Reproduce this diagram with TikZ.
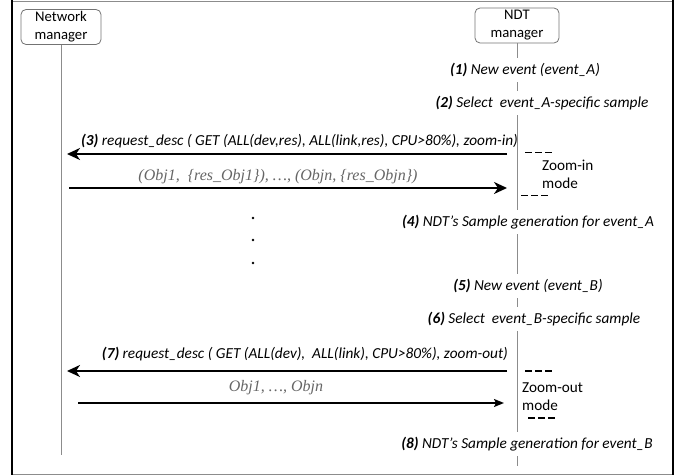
\documentclass[tikz,border=0pt]{standalone}
\usepackage{fontspec}
\setmainfont{Carlito}
\newfontfamily\objfont{Liberation Serif}
\usetikzlibrary{arrows.meta}
\tikzstyle{actor} = [rectangle, rounded corners=5pt, minimum height=35pt, inner sep=2pt, align=center, draw=black!55, line width=0.8pt, font=\fontsize{14.7}{18}\selectfont]
\tikzstyle{evt} = [inner sep=0pt, minimum height=24pt, font=\fontsize{15.3}{17}\selectfont\itshape]
\tikzstyle{reply} = [inner sep=0pt, text=black!60, font=\objfont\fontsize{16}{18}\selectfont\itshape]
\tikzstyle{modetxt} = [align=left, inner sep=0pt, font=\fontsize{15.2}{18}\selectfont]
\tikzstyle{modedash} = [line width=1.3pt, dash pattern=on 7pt off 3pt]
\tikzstyle{life} = [draw=black!45, line width=0.8pt]
\tikzstyle{pause} = [circle, fill=black, inner sep=0pt, minimum size=2.8pt]
\tikzstyle{msg} = [line width=2.2pt, ->, >={Stealth[length=13pt, width=12pt, inset=4pt]}]
\tikzstyle{msgthin} = [line width=1.5pt, ->, >={Stealth[length=10pt, width=8pt, inset=2pt]}]

\begin{document}
\begin{tikzpicture}[x=1pt, y=-1pt]
		\useasboundingbox (0,0) rectangle (686,476);
		\draw [black!45, line width=0.8pt] (12,1) -- (673,1);
		\draw [black!45, line width=0.8pt] (12,474) -- (673,474);
		\draw [line width=2pt] (12,0) -- (12,475);
		\draw [line width=2pt] (673,0) -- (673,475);

		\node (netmgr) [actor, minimum width=80pt] at (61,27) {Network\\manager};
		\node (ndtmgr) [actor, minimum width=84pt] at (517,25.5) {NDT\\manager};
		\coordinate (netend) at (61,455);
		\coordinate (ndtend) at (517,466);

		\node (evtA) [evt] at (525,70) {\textbf{(1)} New event (event\_A)};
		\node (selA) [evt] at (542,103) {\textbf{(2)} Select\ \ event\_A-specific sample};
		\node (reqA) [evt, anchor=east] at (518,141) {\textbf{(3)} request\_desc\ ( GET (ALL(dev,res), ALL(link,res), CPU>80\%), zoom-in)};
		\node (respA) [reply] at (278,177) {(Obj1,\ \ \{res\_Obj1\}), …, (Objn, \{res\_Objn\})};
		\node (genA) [evt] at (528,222) {\textbf{(4)} NDT’s Sample generation for event\_A};
		\node (evtB) [evt] at (528,286) {\textbf{(5)} New event (event\_B)};
		\node (selB) [evt] at (534,319) {\textbf{(6)} Select\ \ event\_B-specific sample};
		\node (reqB) [evt, anchor=east] at (508,354) {\textbf{(7)} request\_desc\ ( GET (ALL(dev),\ \ ALL(link), CPU>80\%), zoom-out)};
		\node (respB) [reply] at (276,388) {Obj1, …, Objn};
		\node (genB) [evt] at (527,444) {\textbf{(8)} NDT’s Sample generation for event\_B};

		\node (dot1) [pause] at (253,218) {};
		\node (dot2) [pause] at (253,240) {};
		\node (dot3) [pause] at (253,263) {};

		\node (zin) [modetxt, anchor=west] at (542,174) {Zoom-in\\mode};
		\node (zout) [modetxt, anchor=west] at (522,397) {Zoom-out\\mode};
		\draw [modedash] ([shift={(-17,-7)}]zin.north west) -- ++(27,0);
		\draw [modedash] ([shift={(-21,7)}]zin.south west) -- ++(27,0);
		\draw [modedash] ([shift={(3,-12)}]zout.north west) -- ++(27,0);
		\draw [modedash] ([shift={(6,7)}]zout.south west) -- ++(27,0);

		\draw [life] (netmgr) -- (netend);
		\draw [life] (ndtmgr) -- (ndtmgr.south |- evtA.north);
		\draw [life] (ndtmgr.south |- evtA.south) -- (ndtmgr.south |- selA.north);
		\draw [life] (ndtmgr.south |- selA.south) -- (ndtmgr.south |- genA.north);
		\draw [life] (ndtmgr.south |- genA.south) -- (ndtmgr.south |- evtB.north);
		\draw [life] (ndtmgr.south |- evtB.south) -- (ndtmgr.south |- selB.north);
		\draw [life] (ndtmgr.south |- selB.south) -- (ndtmgr.south |- genB.north);
		\draw [life] (ndtmgr.south |- genB.south) -- (ndtend);

		\coordinate (ndtA1) at (507,154);
		\coordinate (netA1) at (67,154);
		\coordinate (netA2) at (69,188);
		\coordinate (ndtA2) at (507,188);
		\coordinate (ndtB1) at (507,371);
		\coordinate (netB1) at (67,371);
		\coordinate (netB2) at (78,403);
		\coordinate (ndtB2) at (504,403);
		\draw [msg] (ndtA1) -- (netA1);
		\draw [msg] (netA2) -- (ndtA2);
		\draw [msg] (ndtB1) -- (netB1);
		\draw [msgthin] (netB2) -- (ndtB2);
	\end{tikzpicture}
\end{document}
